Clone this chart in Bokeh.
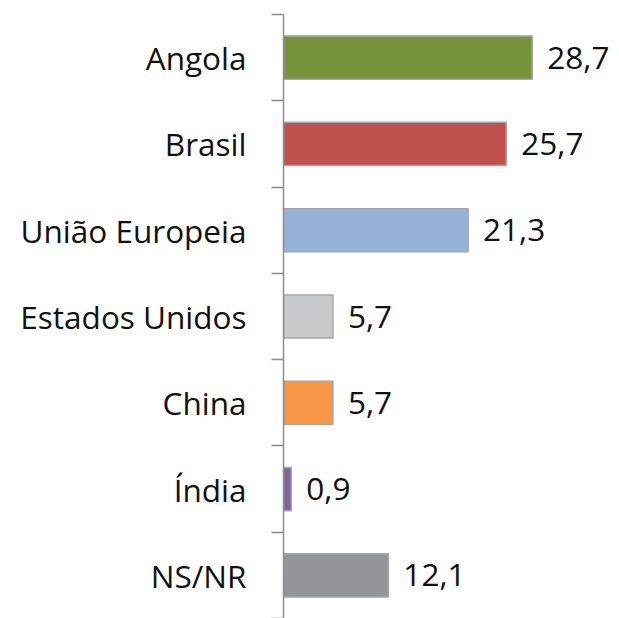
from bokeh.plotting import figure
from bokeh.models import Range1d, FixedTicker, ColumnDataSource
from bokeh.core.properties import value
from bokeh.embed import file_html
from bokeh.resources import INLINE

categories = ["Angola", "Brasil", "União Europeia", "Estados Unidos", "China", "Índia", "NS/NR"]
values = [28.7, 25.7, 21.3, 5.7, 5.7, 0.9, 12.1]
value_labels = ["28,7", "25,7", "21,3", "5,7", "5,7", "0,9", "12,1"]
colors = ["#77933C", "#C0504D", "#95B3D7", "#C8C9CB", "#F79646", "#8064A2", "#939598"]

n = len(categories)
ypos = [n - i - 0.5 for i in range(n)]

FONT = "Open Sans"
FSIZE = "31.5px"

p = figure(width=619, height=618, output_backend="svg", toolbar_location=None,
           x_range=Range1d(0, 38.77), y_range=Range1d(0, n),
           min_border_left=283, min_border_right=0, min_border_top=14, min_border_bottom=0)

src = ColumnDataSource(dict(y=ypos, v=values, c=colors, lab=value_labels))
p.hbar(y="y", right="v", left=0, height=0.5, fill_color="c", line_color="#A6A6A6",
       line_width=1.5, source=src)
p.text(x="v", y="y", text="lab", x_offset=15, text_baseline="middle", text_align="left",
       text_font=value(FONT), text_font_size=FSIZE, text_color="#111111", source=src)

p.xaxis.visible = False
p.xgrid.visible = False
p.ygrid.visible = False
p.outline_line_color = None

ax = p.yaxis[0]
ax.ticker = FixedTicker(ticks=ypos, minor_ticks=list(range(n + 1)))
ax.major_label_overrides = {y: c for y, c in zip(ypos, categories)}
ax.major_tick_out = 0
ax.major_tick_in = 0
ax.minor_tick_out = 12
ax.minor_tick_in = 0
ax.minor_tick_line_color = "#8C8C8C"
ax.minor_tick_line_width = 1.5
ax.axis_line_color = "#8C8C8C"
ax.axis_line_width = 1.5
ax.major_label_standoff = 25
ax.major_label_text_font = FONT
ax.major_label_text_font_size = FSIZE
ax.major_label_text_color = "#111111"

open("out.html", "w").write(file_html(p, INLINE))
